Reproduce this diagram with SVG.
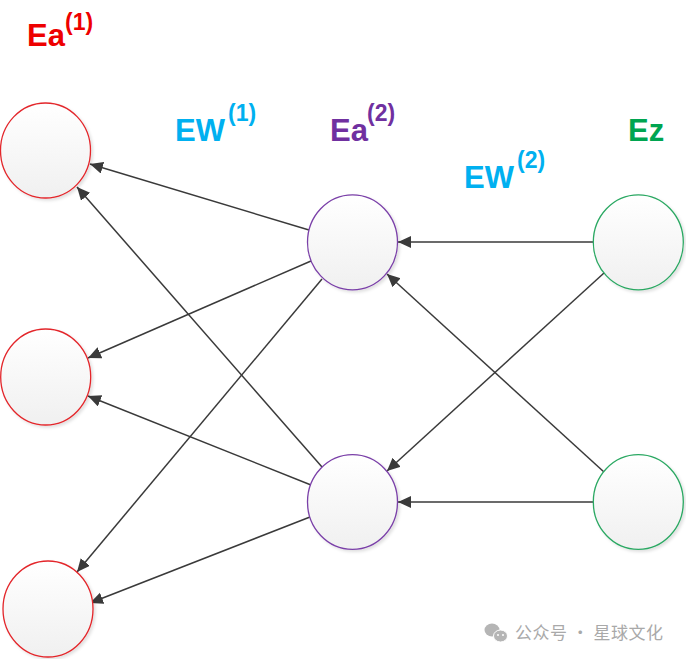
<svg xmlns="http://www.w3.org/2000/svg" width="686" height="659" viewBox="0 0 686 659">
<style>
.node{stroke-width:1.3}
.red{stroke:#e3262b}
.pur{stroke:#7a3fa8}
.grn{stroke:#2aa862}
.edge{stroke:#3a3a3a;stroke-width:1.5;fill:none;marker-end:url(#arr)}
.lbl{font-family:"Liberation Sans",Arial,sans-serif;font-weight:bold;font-size:31px}
.sup{font-size:23px}
.wm{font-family:"Noto Sans CJK SC","Noto Sans",sans-serif;font-size:17px;fill:#a9a9a9}
</style>
<defs>
<linearGradient id="g" x1="0" y1="0" x2="0" y2="1">
<stop offset="0" stop-color="#ffffff"/>
<stop offset="1" stop-color="#f0f0f0"/>
</linearGradient>
<filter id="sh" x="-20%" y="-20%" width="150%" height="150%">
<feDropShadow dx="2" dy="2" stdDeviation="1.5" flood-color="#000" flood-opacity="0.12"/>
</filter>
<marker id="arr" markerUnits="userSpaceOnUse" markerWidth="15" markerHeight="13" refX="13" refY="6" orient="auto">
<path d="M0,0 L13,6 L0,12 z" fill="#3a3a3a"/>
</marker>
</defs>
<rect width="686" height="659" fill="#fff"/>
<g id="connectors">
<line class="edge" x1="309" y1="230" x2="90" y2="164"/>
<line class="edge" x1="311" y1="261" x2="88" y2="358"/>
<line class="edge" x1="322" y1="279" x2="77" y2="572"/>
<line class="edge" x1="322" y1="467" x2="77" y2="187"/>
<line class="edge" x1="311" y1="485" x2="88" y2="396"/>
<line class="edge" x1="310" y1="517" x2="90" y2="603"/>
<line class="edge" x1="593" y1="242" x2="398" y2="242"/>
<line class="edge" x1="604" y1="273" x2="387" y2="471"/>
<line class="edge" x1="604" y1="472" x2="387" y2="274"/>
<line class="edge" x1="593" y1="502" x2="398" y2="502"/>
</g>
<g id="a1_1"><ellipse class="node red" cx="45.5" cy="150.5" rx="45" ry="47.5" fill="url(#g)" filter="url(#sh)"/></g>
<g id="a1_2"><ellipse class="node red" cx="45.7" cy="377" rx="45" ry="48" fill="url(#g)" filter="url(#sh)"/></g>
<g id="a1_3"><ellipse class="node red" cx="48" cy="609" rx="45" ry="48" fill="url(#g)" filter="url(#sh)"/></g>
<g id="a2_1"><ellipse class="node pur" cx="352.5" cy="242.3" rx="45" ry="47.5" fill="url(#g)" filter="url(#sh)"/></g>
<g id="a2_2"><ellipse class="node pur" cx="352.5" cy="502" rx="45" ry="47.3" fill="url(#g)" filter="url(#sh)"/></g>
<g id="z_1"><ellipse class="node grn" cx="638.3" cy="242.3" rx="45" ry="47.5" fill="url(#g)" filter="url(#sh)"/></g>
<g id="z_2"><ellipse class="node grn" cx="638.3" cy="502" rx="45" ry="47.3" fill="url(#g)" filter="url(#sh)"/></g>
<g id="labels">
<text class="lbl" fill="#ee0000"><tspan x="27" y="46">Ea</tspan><tspan class="sup" x="65" y="30">(1)</tspan></text>
<text class="lbl" fill="#00b0f0"><tspan x="175" y="141">EW</tspan><tspan class="sup" x="228" y="121">(1)</tspan></text>
<text class="lbl" fill="#7030a0"><tspan x="330" y="141">Ea</tspan><tspan class="sup" x="367" y="121">(2)</tspan></text>
<text class="lbl" fill="#00b0f0"><tspan x="464" y="188">EW</tspan><tspan class="sup" x="517" y="168">(2)</tspan></text>
<text class="lbl" fill="#00a550"><tspan x="628" y="141">Ez</tspan></text>
</g>
<g id="watermark">
<ellipse cx="492" cy="630" rx="7.5" ry="6.5" fill="#b5b5b5"/>
<ellipse cx="500.5" cy="636" rx="7" ry="6" fill="#b5b5b5" stroke="#fff" stroke-width="1"/>
<circle cx="498" cy="635" r="1" fill="#fff"/>
<circle cx="503" cy="635" r="1" fill="#fff"/>
<text class="wm" x="515" y="639" textLength="148" lengthAdjust="spacing">公众号 · 星球文化</text>
</g>
</svg>
